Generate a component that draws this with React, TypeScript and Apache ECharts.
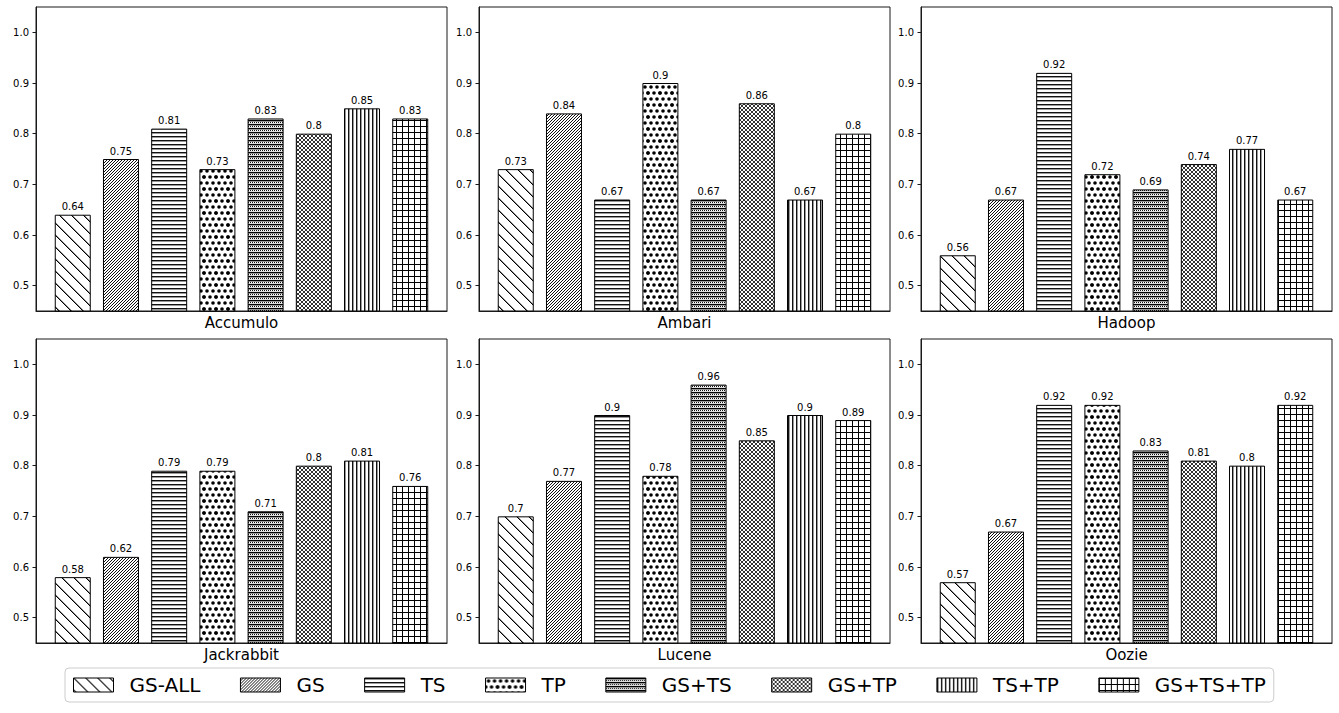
import React, { useEffect, useRef } from "react";
import * as echarts from "echarts";

const projects = ["Accumulo", "Ambari", "Hadoop", "Jackrabbit", "Lucene", "Oozie"];
const methods = ["GS-ALL", "GS", "TS", "TP", "GS+TS", "GS+TP", "TS+TP", "GS+TS+TP"];

const accumulo = [0.64, 0.75, 0.81, 0.73, 0.83, 0.8, 0.85, 0.83];
const ambari = [0.73, 0.84, 0.67, 0.9, 0.67, 0.86, 0.67, 0.8];
const hadoop = [0.56, 0.67, 0.92, 0.72, 0.69, 0.74, 0.77, 0.67];
const jackrabbit = [0.58, 0.62, 0.79, 0.79, 0.71, 0.8, 0.81, 0.76];
const lucene = [0.7, 0.77, 0.9, 0.78, 0.96, 0.85, 0.9, 0.89];
const oozie = [0.57, 0.67, 0.92, 0.92, 0.83, 0.81, 0.8, 0.92];
const projectValues = [accumulo, ambari, hadoop, jackrabbit, lucene, oozie];

const yTicks = [0.5, 0.6, 0.7, 0.8, 0.9, 1.0];

const FONT = "DejaVu Sans";

function makeTile(w: number, h: number, draw: (px: (x: number, y: number, c: string) => void, ctx: CanvasRenderingContext2D) => void) {
  const canvas = document.createElement("canvas");
  canvas.width = w;
  canvas.height = h;
  const ctx = canvas.getContext("2d") as CanvasRenderingContext2D;
  ctx.fillStyle = "#ffffff";
  ctx.fillRect(0, 0, w, h);
  const px = (x: number, y: number, c: string) => {
    ctx.fillStyle = c;
    ctx.fillRect(((x % w) + w) % w, ((y % h) + h) % h, 1, 1);
  };
  draw(px, ctx);
  return { image: canvas, repeat: "repeat", imageWidth: w, imageHeight: h } as any;
}

function buildPatterns() {
  const pats: any[] = [];
  // GS-ALL: sparse backslash
  pats.push(
    makeTile(12, 12, (px) => {
      for (let i = 0; i < 12; i++) {
        px(i, i, "#000");
        px(i + 1, i, "#888");
      }
    })
  );
  // GS: dense forward slash
  pats.push(
    makeTile(3, 3, (px) => {
      for (let i = 0; i < 3; i++) {
        px(i, 2 - i, "#111");
      }
    })
  );
  // TS: horizontal lines
  pats.push(
    makeTile(4, 4, (px) => {
      for (let x = 0; x < 4; x++) {
        px(x, 0, "#111");
        px(x, 1, "#999");
      }
    })
  );
  // TP: staggered dots
  pats.push(
    makeTile(12, 12, (_px, ctx) => {
      ctx.fillStyle = "#000";
      const pts = [
        [3, 3],
        [9, 3],
        [0, 9],
        [6, 9],
        [12, 9],
      ];
      for (const [cx, cy] of pts) {
        for (const dx of [-12, 0, 12]) {
          for (const dy of [-12, 0, 12]) {
            ctx.beginPath();
            ctx.arc(cx + dx, cy + dy, 1.8, 0, Math.PI * 2);
            ctx.fill();
          }
        }
      }
    })
  );
  // GS+TS: dense dotted lines
  pats.push(
    makeTile(4, 4, (px) => {
      for (let x = 0; x < 4; x++) {
        px(x, 0, "#000");
        px(x, 1, "#999");
        px(x, 2, x % 2 === 0 ? "#111" : "#fff");
        px(x, 3, "#ddd");
      }
    })
  );
  // GS+TP: crosshatch
  pats.push(
    makeTile(4, 4, (px) => {
      for (let i = 0; i < 4; i++) {
        px(i, i, "#333");
        px(i, 3 - i, "#333");
      }
    })
  );
  // TS+TP: vertical lines
  pats.push(
    makeTile(4, 4, (px) => {
      for (let y = 0; y < 4; y++) {
        px(0, y, "#111");
        px(1, y, "#999");
      }
    })
  );
  // GS+TS+TP: grid
  pats.push(
    makeTile(6, 6, (px) => {
      for (let i = 0; i < 6; i++) {
        px(i, 0, "#000");
        px(0, i, "#000");
      }
    })
  );
  return pats;
}

const gridLefts = [36, 479, 921];
const gridTops = [7, 339];
const gridWidth = 411;
const gridHeight = 304;

export default function App() {
  const ref = useRef<HTMLDivElement>(null);

  useEffect(() => {
    if (!ref.current) return;
    const chart = echarts.init(ref.current, undefined, { renderer: "svg" });
    const patterns = buildPatterns();

    const grids: any[] = [];
    const xAxes: any[] = [];
    const yAxes: any[] = [];
    const series: any[] = [];

    projects.forEach((proj, g) => {
      const col = g % 3;
      const row = Math.floor(g / 3);
      grids.push({
        left: gridLefts[col],
        top: gridTops[row],
        width: gridWidth,
        height: gridHeight,
        show: true,
        borderColor: "#1a1a1a",
        borderWidth: 1,
        backgroundColor: "transparent",
        containLabel: false,
      });
      xAxes.push({
        type: "value",
        gridIndex: g,
        min: -0.7625,
        max: 7.7625,
        axisLine: { show: true, onZero: false, lineStyle: { color: "#1a1a1a", width: 1 } },
        axisTick: { show: false },
        axisLabel: { show: false },
        splitLine: { show: false },
        name: proj,
        nameLocation: "middle",
        nameGap: 4,
        nameTextStyle: { fontSize: 15, fontFamily: FONT, color: "#000" },
      });
      yAxes.push({
        type: "value",
        gridIndex: g,
        min: 0.45,
        max: 1.05,
        axisLine: { show: true, onZero: false, lineStyle: { color: "#1a1a1a", width: 1 } },
        axisTick: {
          show: true,
          length: 3.5,
          customValues: yTicks,
          lineStyle: { color: "#1a1a1a", width: 1 },
        },
        axisLabel: {
          show: true,
          customValues: yTicks,
          formatter: (v: number) => v.toFixed(1),
          fontSize: 10,
          fontFamily: FONT,
          color: "#000",
          margin: 7,
        },
        splitLine: { show: false },
      });
      const vals = projectValues[g];
      methods.forEach((m, i) => {
        series.push({
          type: "bar",
          name: m,
          xAxisIndex: g,
          yAxisIndex: g,
          data: [[i, vals[i]]],
          barWidth: 36,
          barGap: "-100%",
          clip: true,
          itemStyle: { color: patterns[i], borderColor: "#000", borderWidth: 1 },
          label: {
            show: true,
            position: "top",
            distance: 3,
            fontSize: 10,
            fontFamily: FONT,
            color: "#000",
            formatter: (p: any) => String(p.value[1]),
          },
          emphasis: { disabled: true },
          silent: true,
        });
      });
    });

    chart.setOption({
      animation: false,
      backgroundColor: "#ffffff",
      grid: grids,
      xAxis: xAxes,
      yAxis: yAxes,
      series,
      legend: {
        data: methods,
        left: 65,
        top: 668,
        orient: "horizontal",
        icon: "rect",
        itemWidth: 40,
        itemHeight: 14,
        itemGap: 39.5,
        padding: [7, 8, 7, 8],
        borderColor: "#cccccc",
        borderWidth: 1,
        borderRadius: 4,
        backgroundColor: "#ffffff",
        selectedMode: false,
        itemStyle: { borderColor: "#000", borderWidth: 1 },
        textStyle: {
          fontSize: 20,
          fontFamily: FONT,
          color: "#000",
          padding: [0, 0, 0, 11],
        },
      },
    });

    return () => {
      chart.dispose();
    };
  }, []);

  return (
    <div
      ref={ref}
      style={{ position: "absolute", left: 0, top: 0, width: 1339, height: 713, background: "#fff" }}
    />
  );
}
